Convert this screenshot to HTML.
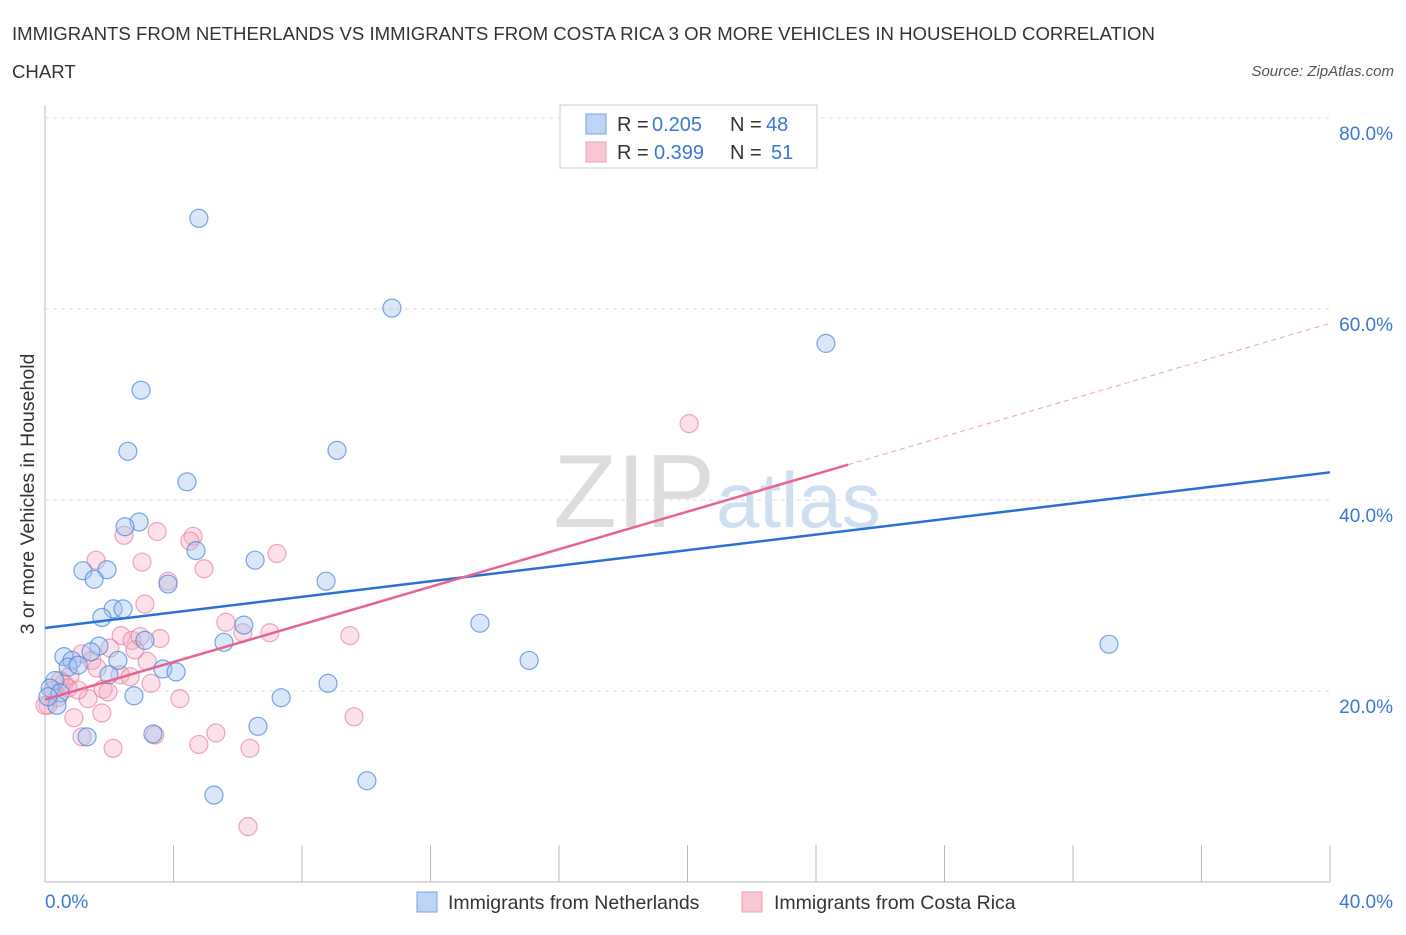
<!DOCTYPE html>
<html><head><meta charset="utf-8"><style>
body{margin:0;background:#fff;font-family:"Liberation Sans",sans-serif}
svg text{font-family:"Liberation Sans",sans-serif}
</style></head><body>
<svg id="c" width="1406" height="930" xmlns="http://www.w3.org/2000/svg">
<text x="12" y="40" font-size="18.6" fill="#333">IMMIGRANTS FROM NETHERLANDS VS IMMIGRANTS FROM COSTA RICA 3 OR MORE VEHICLES IN HOUSEHOLD CORRELATION</text>
<text x="12" y="78" font-size="18.6" fill="#333">CHART</text>
<text x="1394" y="76" font-size="15" fill="#555" text-anchor="end" font-style="italic">Source: ZipAtlas.com</text>
<text x="715" y="527" font-size="104" fill="#ddd" text-anchor="end" font-family="Liberation Serif">ZIP</text>
<text x="716" y="527" font-size="78" fill="#cfdff2">atlas</text>
<text x="34" y="494" font-size="19.5" fill="#333" text-anchor="middle" transform="rotate(-90 34 494)">3 or more Vehicles in Household</text>
<g id="grid"></g><g id="pts"></g><g id="lines"></g>
<g font-size="20">
<rect x="560" y="105" width="257" height="63" fill="#fff" stroke="#ccc"/>
<rect x="586" y="114" width="20" height="20" fill="#bcd4f5" stroke="#7aa3e0"/>
<rect x="586" y="142" width="20" height="20" fill="#f9c6d4" stroke="#eda0b8"/>
<text x="617" y="131" fill="#333">R =</text><text x="652" y="131" fill="#3a78d4">0.205</text>
<text x="730" y="131" fill="#333">N =</text><text x="766" y="131" fill="#3a78d4">48</text>
<text x="617" y="159" fill="#333">R =</text><text x="654" y="159" fill="#3a78d4">0.399</text>
<text x="730" y="159" fill="#333">N =</text><text x="771" y="159" fill="#3a78d4">51</text>
</g>
<g>
<rect x="417" y="892" width="20" height="20" fill="#bcd4f5" stroke="#7aa3e0"/>
<text x="448" y="909" font-size="19.5" fill="#333">Immigrants from Netherlands</text>
<rect x="742" y="892" width="20" height="20" fill="#f9c6d4" stroke="#eda0b8"/>
<text x="774" y="909" font-size="19.5" fill="#333">Immigrants from Costa Rica</text>
</g>
</svg>
<script>
const blueX=[4.79,10.80,24.31,2.99,2.58,9.09,4.42,2.93,2.49,4.70,6.54,1.18,1.93,1.53,3.83,8.75,2.12,2.43,1.77,13.54,6.19,3.11,5.57,1.68,33.12,0.59,0.84,1.43,2.27,15.07,3.67,4.08,0.72,1.03,1.99,0.31,0.16,0.47,2.77,7.35,8.81,0.37,1.31,3.36,6.63,10.02,5.26,0.09];
const blueY=[69.5,60.1,56.4,51.5,45.1,45.2,41.9,37.7,37.2,34.7,33.7,32.6,32.7,31.7,31.2,31.5,28.6,28.6,27.7,27.1,26.9,25.3,25.1,24.7,24.9,23.6,23.2,24.1,23.2,23.2,22.3,22.0,22.5,22.7,21.7,21.1,20.3,19.8,19.5,19.3,20.8,18.5,15.2,15.5,16.3,10.6,9.1,19.4];
const pinkX=[20.05,3.49,2.46,4.61,4.51,1.59,3.02,7.22,4.95,3.83,3.11,5.63,9.49,6.16,2.37,2.71,2.96,3.58,2.02,1.15,1.46,3.18,2.34,2.65,3.30,0.78,0.59,1.81,1.34,4.20,0.25,0.40,0.09,0.90,1.77,9.62,1.15,5.32,3.42,4.79,2.12,6.38,6.32,1.96,0.47,0.72,1.62,2.80,1.03,7.0,0.0];
const pinkY=[48.0,36.7,36.3,36.2,35.7,33.7,33.5,34.4,32.8,31.5,29.1,27.2,25.8,26.1,25.8,25.3,25.7,25.5,24.5,23.9,23.2,23.1,21.7,21.5,20.8,21.6,20.8,20.2,19.2,19.2,20.1,19.3,18.5,17.2,17.7,17.3,15.2,15.6,15.4,14.4,14.0,14.0,5.8,19.9,21.1,20.3,22.4,24.3,20.1,26.1,18.5];
const yTicks=[20,40,60,80];
const xTickLabels=["0.0%","40.0%"];
const blueTrend=[26.6,42.9];
const pinkTrend=[19.1,43.7,58.5];
const pinkSolidEnd=25;
const NS="http://www.w3.org/2000/svg";
const X=v=>45+v/40*1285, Y=v=>882-v/20*191;
function mk(t,a,p){const e=document.createElementNS(NS,t);for(const k in a)e.setAttribute(k,a[k]);p.appendChild(e);return e;}
const grid=document.getElementById('grid'),pts=document.getElementById('pts'),lines=document.getElementById('lines');
let ax=mk('line',{x1:45,y1:105,x2:45,y2:882,stroke:'#bbb'},grid);


let bx=mk('line',{x1:45,y1:882,x2:1330,y2:882,stroke:'#bbb'},grid);


yTicks.forEach(t=>{
 const g=mk('line',{x1:45,y1:Y(t),x2:1330,y2:Y(t),stroke:'#ddd','stroke-dasharray':'4,4'},grid);
 
 
 const l=mk('text',{x:1393,y:Y(t)+22,'font-size':19,fill:'#3a78d4','text-anchor':'end'},grid);l.textContent=t.toFixed(1)+'%';
 
 
});
for(let i=0;i<=10;i++){const tk=mk('line',{x1:X(i*4),y1:845,x2:X(i*4),y2:882,stroke:'#bbb'},grid);
 
 }
[[0,'start',45],[1,'end',1393]].forEach(([i,a,x])=>{const l=mk('text',{x:x,y:908,'font-size':19,fill:'#3a78d4','text-anchor':a},grid);l.textContent=xTickLabels[i];
 
 });
pinkX.forEach((v,i)=>{const c=mk('circle',{cx:X(v),cy:Y(pinkY[i]),r:9,fill:'rgba(245,170,195,0.35)',stroke:'rgba(232,130,165,0.7)','stroke-width':1.2},pts);
 
 });
blueX.forEach((v,i)=>{const c=mk('circle',{cx:X(v),cy:Y(blueY[i]),r:9,fill:'rgba(160,195,240,0.4)',stroke:'rgba(70,130,215,0.7)','stroke-width':1.2},pts);
 
 });
let bl=mk('line',{x1:X(0),y1:Y(blueTrend[0]),x2:X(40),y2:Y(blueTrend[1]),stroke:'#2a6fd6','stroke-width':2.5},lines);


let pl=mk('line',{x1:X(0),y1:Y(pinkTrend[0]),x2:X(pinkSolidEnd),y2:Y(pinkTrend[1]),stroke:'#e8648e','stroke-width':2.5},lines);


let pd=mk('line',{x1:X(pinkSolidEnd),y1:Y(pinkTrend[1]),x2:X(40),y2:Y(pinkTrend[2]),stroke:'#eea0b8','stroke-width':1,'stroke-dasharray':'5,4'},lines);


</script>
</body></html>
